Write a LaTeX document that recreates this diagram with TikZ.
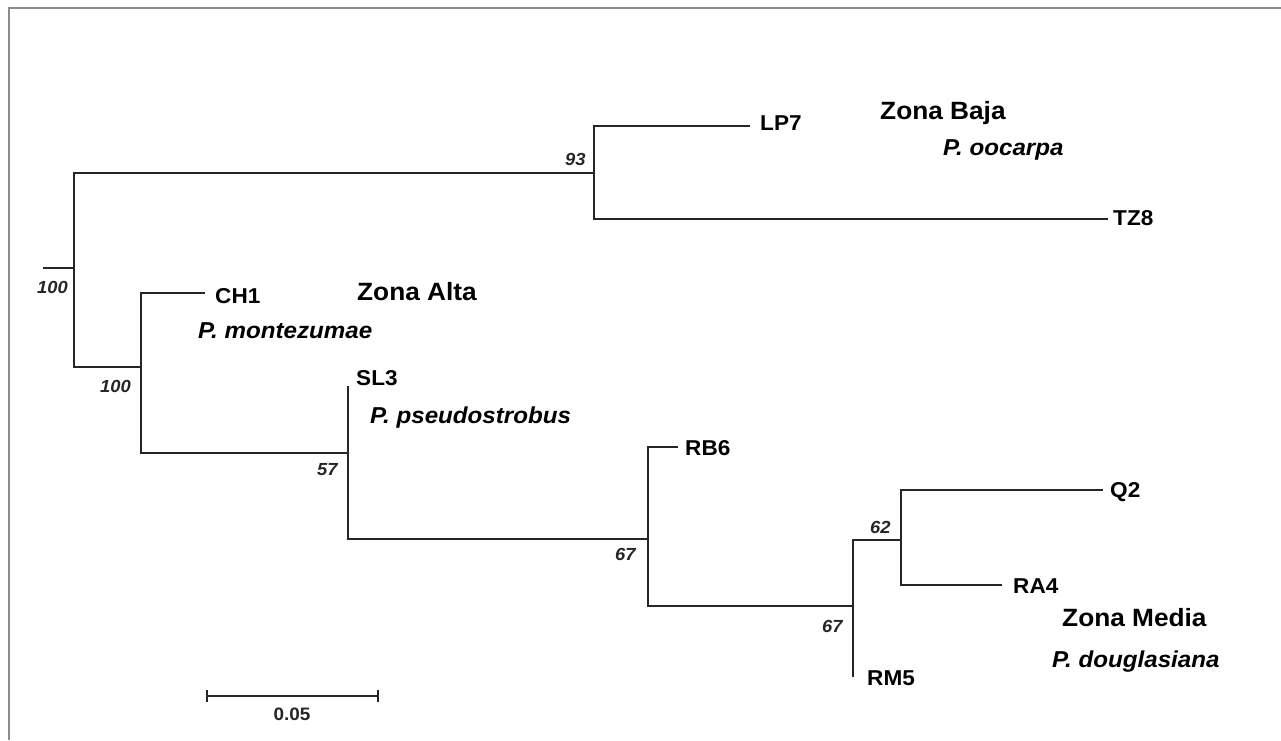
\documentclass[tikz,border=0pt]{standalone}
\usepackage{fontspec}
\setmainfont{Liberation Sans}[FakeStretch=1.05]
\definecolor{branchcol}{HTML}{262626}
\definecolor{framecol}{HTML}{8C8C8C}
\begin{document}
\begin{tikzpicture}[x=1pt,y=-1pt,
  branch/.style={line width=2.9pt, draw=branchcol},
  framebar/.style={line width=2.6pt, draw=framecol},
  leaf/.style={anchor=base west, inner sep=0pt, font=\bfseries\fontsize{21.5}{24}\selectfont, text=black},
  boot/.style={anchor=base west, inner sep=0pt, font=\bfseries\itshape\fontsize{17.5}{20}\selectfont, text=branchcol},
  zone/.style={anchor=base west, inner sep=0pt, font=\bfseries\fontsize{25}{28}\selectfont, text=black},
  species/.style={anchor=base west, inner sep=0pt, font=\bfseries\itshape\fontsize{23}{26}\selectfont, text=black},
  scaletext/.style={anchor=base, inner sep=0pt, font=\bfseries\fontsize{18}{20}\selectfont, text=branchcol}]
\useasboundingbox (0,0) rectangle (1281,740);
\fill[white] (0,0) rectangle (1281,740);
% frame (top and left edges)
\coordinate (fTL) at (9,8);
\coordinate (fTR) at (1281,8);
\coordinate (fBL) at (9,740);
\draw[framebar] (fTR) -- (fTL) -- (fBL);
% tree coordinates
\coordinate (r)  at (43,268);
\coordinate (n1) at (74,268);
\coordinate (a)  at (594,173);
\coordinate (tLP7) at (750,126);
\coordinate (tTZ8) at (1108,219);
\coordinate (b)  at (141,367);
\coordinate (tCH1) at (205,293);
\coordinate (c)  at (348,453);
\coordinate (tSL3) at (348,386);
\coordinate (d)  at (648,539);
\coordinate (tRB6) at (678,447);
\coordinate (e)  at (853,606);
\coordinate (tRM5) at (853,677);
\coordinate (f)  at (901,540);
\coordinate (tQ2) at (1103,490);
\coordinate (tRA4) at (1002,585);
% branches
\draw[branch] (r) -- (n1);
\draw[branch] (n1) |- (a);
\draw[branch] (n1) |- (b);
\draw[branch] (a) |- (tLP7);
\draw[branch] (a) |- (tTZ8);
\draw[branch] (b) |- (tCH1);
\draw[branch] (b) |- (c);
\draw[branch] (c) |- (tSL3);
\draw[branch] (c) |- (d);
\draw[branch] (d) |- (tRB6);
\draw[branch] (d) |- (e);
\draw[branch] (e) |- (f);
\draw[branch] (e) |- (tRM5);
\draw[branch] (f) |- (tQ2);
\draw[branch] (f) |- (tRA4);
% leaf labels
\node[leaf] (LP7) at (760,130) {LP7};
\node[leaf] (TZ8) at (1113,225) {TZ8};
\node[leaf] (CH1) at (215,303) {CH1};
\node[leaf] (SL3) at (356,385) {SL3};
\node[leaf] (RB6) at (685,455) {RB6};
\node[leaf] (Q2)  at (1110,497) {Q2};
\node[leaf] (RA4) at (1013,593) {RA4};
\node[leaf] (RM5) at (867,685) {RM5};
% bootstrap values
\node[boot] (b100a) at (37,293) {100};
\node[boot] (b93)   at (565,165) {93};
\node[boot] (b100b) at (100,392) {100};
\node[boot] (b57)   at (317,475) {57};
\node[boot] (b67a)  at (615,560) {67};
\node[boot] (b67b)  at (822,632) {67};
\node[boot] (b62)   at (870,533) {62};
% zones and species
\node[zone] (zbaja) at (880,119) {Zona Baja};
\node[species] (spooc) at (943,155) {P. oocarpa};
\node[zone] (zalta) at (357,300) {Zona Alta};
\node[species] (spmon) at (198,338) {P. montezumae};
\node[species] (sppse) at (370,423) {P. pseudostrobus};
\node[zone] (zmedia) at (1062,626) {Zona Media};
\node[species] (spdou) at (1052,667) {P. douglasiana};
% scale bar
\coordinate (sbL) at (207,696);
\coordinate (sbR) at (378,696);
\draw[line width=2.2pt, draw=branchcol] (sbL) -- (sbR);
\draw[line width=2.2pt, draw=branchcol] ([yshift=-6pt]sbL) -- ([yshift=6pt]sbL);
\draw[line width=2.2pt, draw=branchcol] ([yshift=-6pt]sbR) -- ([yshift=6pt]sbR);
\node[scaletext] (sblabel) at (292,720) {0.05};
\end{tikzpicture}
\end{document}
